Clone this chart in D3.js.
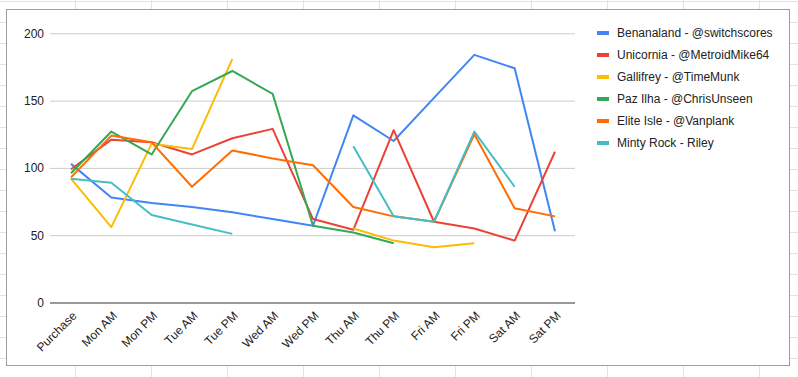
<!DOCTYPE html>
<html>
<head>
<meta charset="utf-8">
<script src="https://cdn.jsdelivr.net/npm/d3@7"></script>
<style>
  html, body { margin: 0; padding: 0; background: #fff; }
  svg { display: block; font-family: "Liberation Sans", Arial, sans-serif; }
</style>
</head>
<body>
<svg id="chart" width="798" height="377"></svg>
<script>
const categories = ["Purchase", "Mon AM", "Mon PM", "Tue AM", "Tue PM", "Wed AM", "Wed PM",
  "Thu AM", "Thu PM", "Fri AM", "Fri PM", "Sat AM", "Sat PM"];
const yTicks = [0, 50, 100, 150, 200];

const seriesNames = [
  "Benanaland - @switchscores",
  "Unicornia - @MetroidMike64",
  "Gallifrey - @TimeMunk",
  "Paz Ilha - @ChrisUnseen",
  "Elite Isle - @Vanplank",
  "Minty Rock - Riley"
];
const seriesColors = ["#4285F4", "#EA4335", "#FBBC04", "#34A853", "#FF6D01", "#46BDC6"];

const benanaland = [103, 78, 74, 71, 67, 62, 57, 139, 120, 152, 184, 174, 53];
const unicornia  = [99, 121, 119, 110, 122, 129, 62, 54, 128, 60, 55, 46, 112];
const gallifrey  = [92, 56, 118, 114, 181, null, null, 55, 46, 41, 44, null, null];
const pazIlha    = [96, 127, 110, 157, 172, 155, 57, 52, 44, null, null, null, null];
const eliteIsle  = [93, 124, 119, 86, 113, 107, 102, 71, 64, 60, 125, 70, 64];
const mintyRock  = [92, 89, 65, 58, 51, null, null, 116, 64, 60, 127, 86, null];

const seriesValues = [benanaland, unicornia, gallifrey, pazIlha, eliteIsle, mintyRock];

const W = 798, H = 377;
const svg = d3.select("#chart");

// spreadsheet cell grid behind the chart
const bg = svg.append("g");
d3.range(75, W, 76).forEach(gx => {
  bg.append("line").attr("x1", gx + 0.5).attr("x2", gx + 0.5).attr("y1", 0).attr("y2", H)
    .attr("stroke", "#e2e2e2").attr("stroke-width", 1);
});
d3.range(1, H, 21).forEach(gy => {
  bg.append("line").attr("x1", 0).attr("x2", W).attr("y1", gy + 0.5).attr("y2", gy + 0.5)
    .attr("stroke", "#e2e2e2").attr("stroke-width", 1);
});

// chart box
svg.append("rect").attr("x", 6.5).attr("y", 9.5).attr("width", 783).attr("height", 356)
  .attr("fill", "#fff").attr("stroke", "#9e9e9e").attr("stroke-width", 1);

const plotLeft = 50, plotRight = 575;
const x = d3.scalePoint().domain(categories).range([71, 555]);
const y = d3.scaleLinear().domain([0, 200]).range([302.5, 33.3]);

// y axis with gridlines
const yAxis = svg.append("g")
  .attr("transform", `translate(${plotLeft},0)`)
  .call(d3.axisLeft(y).tickValues(yTicks).tickSize(-(plotRight - plotLeft)).tickPadding(6).tickFormat(d3.format("d")));
yAxis.select(".domain").remove();
yAxis.selectAll(".tick line")
  .attr("stroke", d => d === 0 ? "#333" : "#cccccc")
  .attr("stroke-width", 1);
yAxis.selectAll(".tick text")
  .attr("fill", "#222").style("font-size", "12px");

// x axis labels
const xAxis = svg.append("g")
  .attr("transform", `translate(0,${y(0)})`)
  .call(d3.axisBottom(x).tickSize(0).tickPadding(0));
xAxis.select(".domain").remove();
xAxis.selectAll(".tick text")
  .attr("fill", "#222").style("font-size", "12px")
  .attr("text-anchor", "end")
  .attr("dy", null)
  .attr("y", 0)
  .attr("transform", "translate(6,14) rotate(-45)");

// lines
const line = d3.line()
  .defined(d => d.v !== null)
  .x(d => x(d.c))
  .y(d => y(d.v));

seriesValues.forEach((vals, i) => {
  const pts = vals.map((v, j) => ({ c: categories[j], v: v }));
  svg.append("path")
    .datum(pts)
    .attr("fill", "none")
    .attr("stroke", seriesColors[i])
    .attr("stroke-width", 2)
    .attr("stroke-linejoin", "round")
    .attr("d", line);
});

// legend
const legend = svg.append("g").attr("transform", "translate(597,33)");
seriesNames.forEach((name, i) => {
  const g = legend.append("g").attr("transform", `translate(0,${i * 22})`);
  g.append("rect").attr("x", 0).attr("y", -2).attr("width", 12).attr("height", 4)
    .attr("fill", seriesColors[i]);
  g.append("text").attr("x", 20).attr("y", 0).attr("dy", "0.35em")
    .attr("fill", "#222").style("font-size", "12px").text(name);
});
</script>
</body>
</html>
